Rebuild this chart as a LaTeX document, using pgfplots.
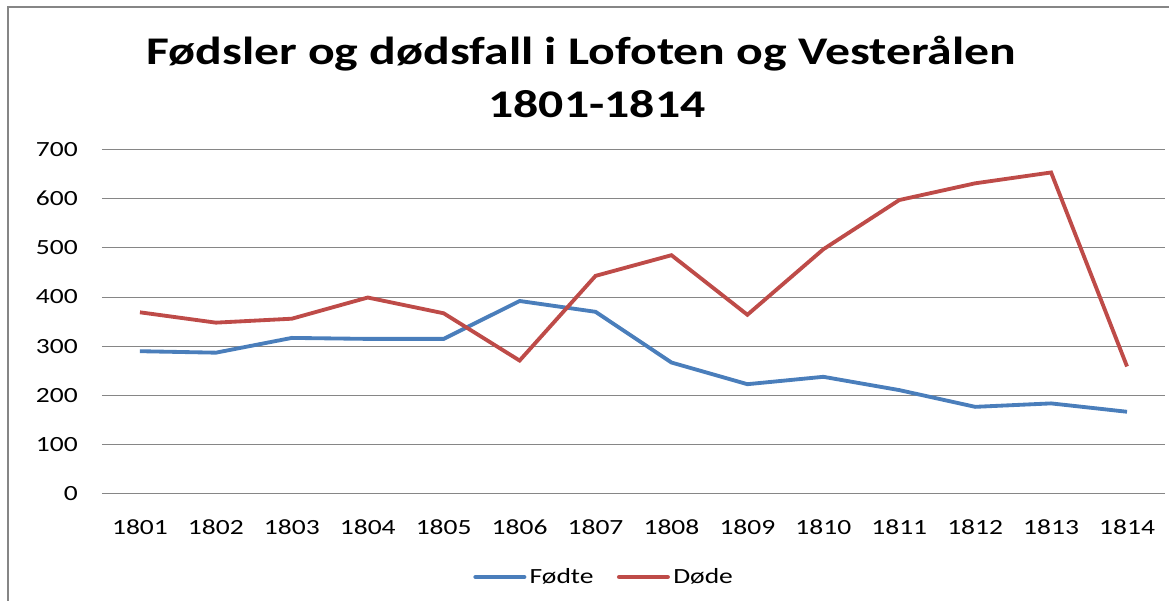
\documentclass[border=0pt]{standalone}
\usepackage{pgfplots}
\pgfplotsset{compat=1.18}
\usepackage{fontspec}
\setmainfont{Carlito}[FakeStretch=1.27]
\definecolor{fodte}{HTML}{4A7EBB}
\definecolor{dode}{HTML}{BE4B48}
\definecolor{gridgray}{HTML}{868686}
\begin{document}
\begin{tikzpicture}
% picture frame: 1px = 0.6pt, axis box at (0,0)-(637.8pt,206.8pt)
\path[use as bounding box] (-61.2pt,-64.2pt) rectangle (640.2pt,296.4pt);
\draw[gridgray, line width=1.4pt] (-56.4pt,-70pt) -- (-56.4pt,292.2pt) -- (650pt,292.2pt);
\node[anchor=base, font=\fontsize{23.5}{28}\selectfont\bfseries] at (287.5pt,257.4pt)
  {Fødsler og dødsfall i Lofoten og Vesterålen};
\node[anchor=base, font=\fontsize{23.5}{28}\selectfont\bfseries] at (297pt,225.6pt)
  {1801-1814};
\begin{axis}[
    scale only axis,
    width=637.8pt, height=206.8pt,
    xmin=-0.5, xmax=13.5,
    ymin=0, ymax=700,
    ytick={0,100,...,700},
    xtick={0,...,13},
    xticklabels={1801,1802,1803,1804,1805,1806,1807,1808,1809,1810,1811,1812,1813,1814},
    axis line style={draw=none},
    major tick length=0pt,
    ymajorgrids,
    grid style={gridgray, line width=0.6pt},
    /pgf/number format/assume math mode=true,
    /pgf/number format/1000 sep={},
    tick label style={font=\fontsize{13}{15}\selectfont},
    y tick label style={xshift=-11pt},
    x tick label style={yshift=-12pt},
    legend columns=2,
    legend style={draw=none, at={(0.473,-0.2408)}, anchor=center,
      font=\fontsize{13}{15}\selectfont,
      /tikz/every even column/.append style={column sep=12pt}},
    legend image code/.code={\draw[#1, line width=2.8pt, line cap=round] (1pt,0pt) -- (30pt,0pt);},
  ]
  \addplot[fodte, line width=2.3pt] coordinates {
    (0,290) (1,287) (2,317) (3,315) (4,315) (5,392) (6,370)
    (7,267) (8,223) (9,238) (10,211) (11,177) (12,184) (13,167)
  };
  \addplot[dode, line width=2.3pt] coordinates {
    (0,369) (1,348) (2,356) (3,399) (4,367) (5,271) (6,443)
    (7,485) (8,364) (9,497) (10,597) (11,631) (12,653) (13,259)
  };
  \legend{Fødte, Døde}
\end{axis}
\end{tikzpicture}
\end{document}
